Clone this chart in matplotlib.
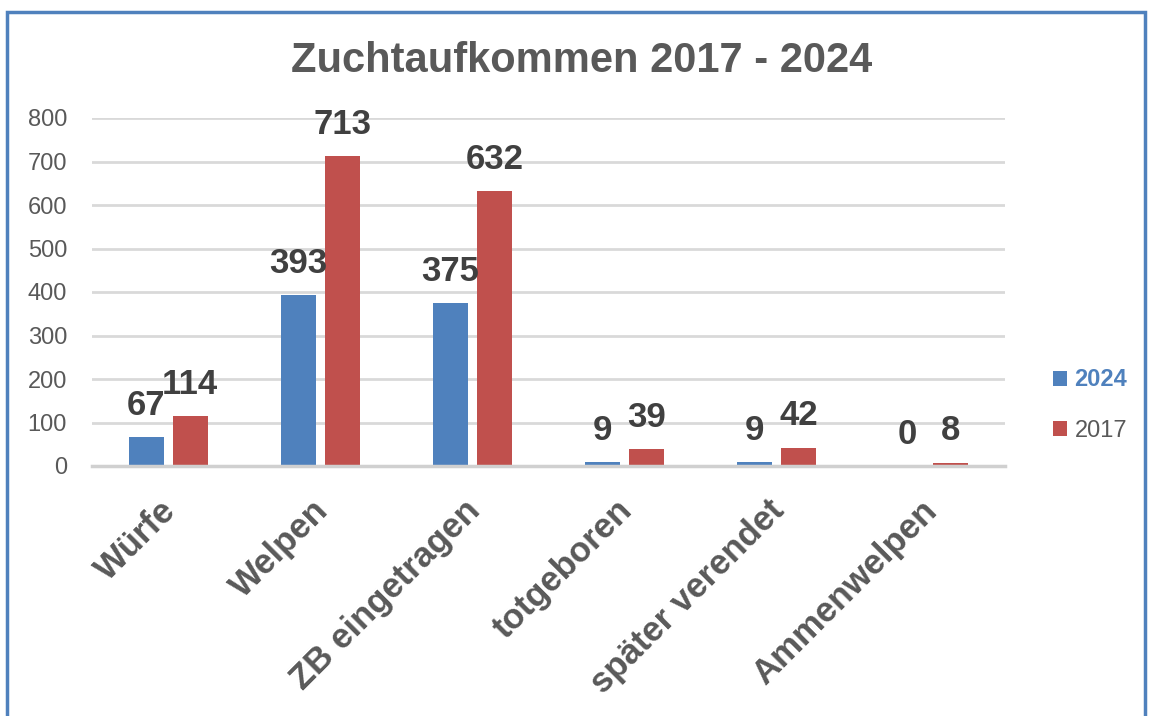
from matplotlib import pyplot as plt
from matplotlib.patches import Rectangle
from matplotlib.transforms import ScaledTranslation
import numpy as np

categories = ['Würfe', 'Welpen', 'ZB eingetragen', 'totgeboren', 'später verendet', 'Ammenwelpen']
values_2024 = [67, 393, 375, 9, 9, 0]
values_2017 = [114, 713, 632, 39, 42, 8]
yticks = [0, 100, 200, 300, 400, 500, 600, 700, 800]

blue = '#4f81bd'
red = '#c0504d'
grey = '#595959'
dark = '#404040'

plt.rcParams['font.family'] = ['Liberation Sans', 'DejaVu Sans']

fig = plt.figure(figsize=(11.5, 7.16), dpi=100)
ax = fig.add_axes([92/1150, 1 - 466/716, (1005 - 92)/1150, (466 - 118)/716])

x = np.arange(len(categories))
w = 0.23
b1 = ax.bar(x - 0.145, values_2024, w, color=blue, label='2024')
b2 = ax.bar(x + 0.145, values_2017, w, color=red, label='2017')

for bars, vals in ((b1, values_2024), (b2, values_2017)):
    for r, v in zip(bars, vals):
        ax.annotate(str(v), (r.get_x() + r.get_width()/2, v), xytext=(0, 11),
                    textcoords='offset points', ha='center', va='bottom',
                    fontsize=25, fontweight='bold', color=dark, annotation_clip=False)

ax.set_xlim(-0.5, len(categories) - 0.5)
ax.set_ylim(0, 800)
ax.set_yticks(yticks)
ax.set_yticklabels([str(t) for t in yticks], fontsize=17, color=grey)
ax.tick_params(axis='y', length=0, pad=18)
ax.tick_params(axis='x', length=0, pad=20)
ax.set_xticks(x)
ax.set_xticklabels(categories, rotation=45, ha='right', va='top', rotation_mode='anchor',
                   fontsize=25, fontweight='bold', color=grey)
shift = ScaledTranslation(-9/100, 0, fig.dpi_scale_trans)
for lab in ax.get_xticklabels():
    lab.set_transform(lab.get_transform() + shift)
for s in ('top', 'right', 'left'):
    ax.spines[s].set_visible(False)
ax.spines['bottom'].set_color('#d0d0d0')
ax.spines['bottom'].set_linewidth(2.5)
ax.grid(axis='y', color='#d9d9d9', linewidth=2)
ax.set_axisbelow(True)

fig.text(582/1150, 1 - 61/716, 'Zuchtaufkommen 2017 - 2024', ha='center', va='center',
         fontsize=30, fontweight='bold', color=grey)

leg = fig.legend(handles=[b1, b2], loc='center left', bbox_to_anchor=(1032/1150, 1 - 405/716),
                 frameon=False, fontsize=17, handlelength=0.6, handleheight=0.6,
                 handletextpad=0.3, labelspacing=1.2)
t1, t2 = leg.get_texts()
t1.set_color(blue)
t1.set_fontweight('bold')
t2.set_color(grey)

fig.patches.append(Rectangle((7/1150, -0.1), (1145 - 7)/1150, 1.1 - 12/716,
                             transform=fig.transFigure, fill=False, edgecolor=blue,
                             linewidth=2.5))

fig.savefig('out.png', dpi=100)
